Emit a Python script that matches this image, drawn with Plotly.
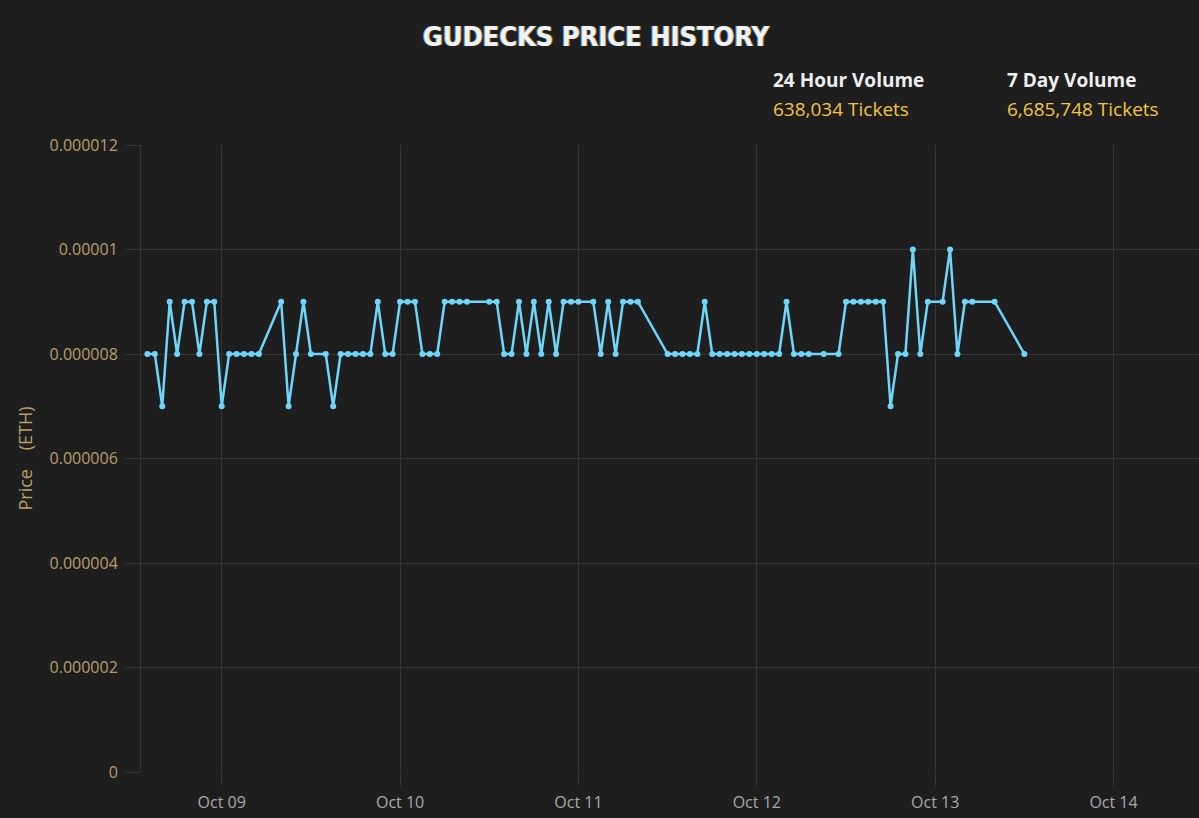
import plotly.graph_objects as go
import pandas as pd

# Hours offset from 2021-10-09 00:00 and prices (ETH)
hours = [-10, -9, -8, -7, -6, -5, -4, -3, -2, -1, 0, 1, 2, 3, 4, 5, 8, 9, 10, 11, 12,
         14, 15, 16, 17, 18, 19, 20, 21, 22, 23, 24, 25, 26, 27, 28, 29, 30, 31, 32, 33,
         36, 37, 38, 39, 40, 41, 42, 43, 44, 45, 46, 47, 48, 50, 51, 52, 53, 54, 55, 56,
         60, 61, 62, 63, 64, 65, 66, 67, 68, 69, 70, 71, 72, 73, 74, 75, 76, 77, 78, 79,
         81, 83, 84, 85, 86, 87, 88, 89, 90, 91, 92, 93, 94, 95, 97, 98, 99, 100, 101,
         104, 108]
prices = [8, 8, 7, 9, 8, 9, 9, 8, 9, 9, 7, 8, 8, 8, 8, 8, 9, 7, 8, 9, 8,
          8, 7, 8, 8, 8, 8, 8, 9, 8, 8, 9, 9, 9, 8, 8, 8, 9, 9, 9, 9,
          9, 9, 8, 8, 9, 8, 9, 8, 9, 8, 9, 9, 9, 9, 8, 9, 8, 9, 9, 9,
          8, 8, 8, 8, 8, 9, 8, 8, 8, 8, 8, 8, 8, 8, 8, 8, 9, 8, 8, 8,
          8, 8, 9, 9, 9, 9, 9, 9, 7, 8, 8, 10, 8, 9, 9, 10, 8, 9, 9,
          9, 8]
prices_eth = [p * 1e-6 for p in prices]

base = pd.Timestamp("2021-10-09 00:00")
times = [base + pd.Timedelta(hours=h) for h in hours]

x_range = [base + pd.Timedelta(hours=-10.86), base + pd.Timedelta(hours=131.5)]

title_text = "GUDECKS PRICE HISTORY"
vol_labels = ["24 Hour Volume", "7 Day Volume"]
vol_values = ["638,034 Tickets", "6,685,748 Tickets"]

BG = "#1e1e1e"
GRID = "#353535"
GOLD_TXT = "#b89e68"

fig = go.Figure()
fig.add_trace(go.Scatter(
    x=times, y=prices_eth, mode="lines+markers",
    line=dict(color="#6fd6f9", width=2.5),
    marker=dict(color="#6fd6f9", size=6),
    hoverinfo="x+y", showlegend=False,
))

fig.update_layout(
    width=1199, height=818,
    paper_bgcolor=BG, plot_bgcolor=BG,
    margin=dict(l=141, r=0, t=145, b=46),
    title=dict(
        text=title_text, x=0.497, xref="container", xanchor="center",
        y=1 - 37 / 818, yref="container", yanchor="middle",
        font=dict(family="DejaVu Sans Condensed, Liberation Sans Narrow, sans-serif",
                  size=27, color="#f2f2f2", weight="bold",
                  shadow="-1px 0px 0px #3a8ad0, 1px 0px 0px #c08a30"),
    ),
    xaxis=dict(
        range=x_range, type="date", tickformat="%b %d",
        dtick=86400000, tick0="2021-10-09",
        showgrid=True, gridcolor=GRID, gridwidth=1,
        ticks="outside", ticklen=13, tickcolor=GRID,
        ticklabelstandoff=3,
        tickfont=dict(family="Open Sans, sans-serif", size=16, color="#a9a9a9"),
        showline=False, zeroline=False,
    ),
    yaxis=dict(
        range=[0, 0.000012], tickvals=[0, 2e-6, 4e-6, 6e-6, 8e-6, 1e-5, 1.2e-5],
        tickformat=".6~f",
        showgrid=True, gridcolor=GRID, gridwidth=1,
        ticks="outside", ticklen=14, tickcolor=GRID,
        ticklabelstandoff=5,
        tickfont=dict(family="Open Sans, sans-serif", size=16, color=GOLD_TXT),
        showline=True, linecolor=GRID, linewidth=1,
        zeroline=False,
        title=dict(text="Price \u00a0\u00a0\u00a0(ETH)", standoff=12,
                   font=dict(family="Open Sans, sans-serif", size=18, color=GOLD_TXT)),
    ),
)

ann_x = [(771 - 141) / 1058, (1005 - 141) / 1058]
for ax, lab, val in zip(ann_x, vol_labels, vol_values):
    fig.add_annotation(x=ax, y=(772 - 80) / 627, xref="paper", yref="paper",
                       xanchor="left", yanchor="middle", showarrow=False,
                       text=lab,
                       font=dict(family="Open Sans, sans-serif", size=19,
                                 color="#eeeeee", weight="bold"))
    fig.add_annotation(x=ax, y=(772 - 109) / 627, xref="paper", yref="paper",
                       xanchor="left", yanchor="middle", showarrow=False,
                       text=val,
                       font=dict(family="Open Sans, sans-serif", size=19, color="#f3c540"))

fig.write_html("out.html")
